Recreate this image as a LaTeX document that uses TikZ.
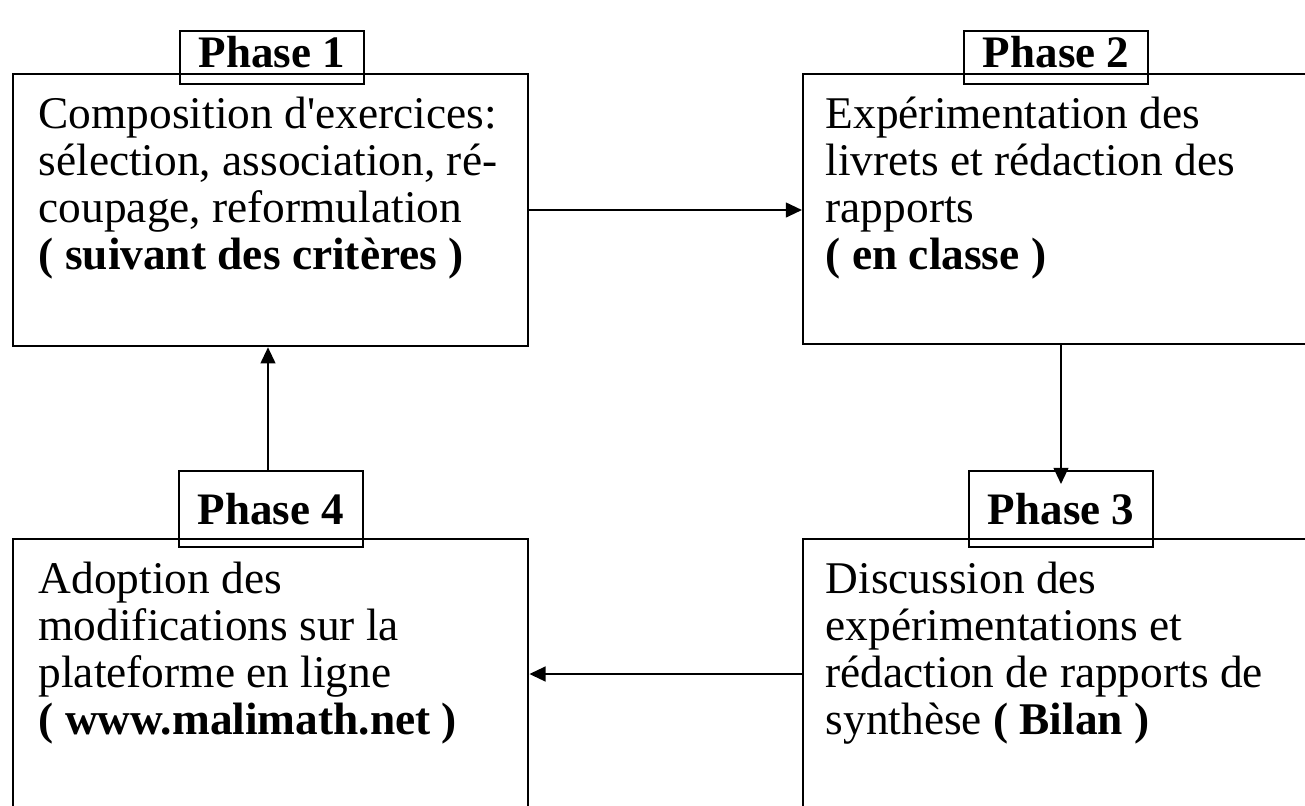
\documentclass[tikz,border=0pt]{standalone}
\usepackage{fontspec}
\setmainfont{Liberation Serif}
\usetikzlibrary{arrows.meta}

\tikzset{
  bigbox/.style={rectangle, draw, line width=0.6pt, anchor=north west, inner sep=0pt},
  phasebox/.style={rectangle, draw, line width=0.6pt, anchor=north west, inner sep=0pt,
    minimum width=1.84cm, font=\fontsize{12.8}{13.4}\selectfont\bfseries},
  boxtext/.style={anchor=north west, align=left, inner sep=0pt, font=\fontsize{12.9}{13.4}\selectfont},
  flow/.style={line width=0.6pt, -{Triangle[length=4.6pt, width=4.2pt]}}
}

\begin{document}
\begin{tikzpicture}[x=0.01cm, y=-0.01cm]
  \useasboundingbox (0,0) rectangle (1305,805);
  \clip (0,0) rectangle (1305,805);
  % Boxes
  \node (box1) [bigbox, minimum width=5.15cm, minimum height=2.72cm] at (12, 73) {};
  \node (box2) [bigbox, minimum width=6cm, minimum height=2.70cm] at (802, 73) {};
  \node (box3) [bigbox, minimum width=6cm, minimum height=4cm] at (802, 538) {};
  \node (box4) [bigbox, minimum width=5.15cm, minimum height=4cm] at (12, 538) {};
  % Headers
  \node (ph1) [phasebox, text height=0.36cm, text depth=0.17cm] at (179, 30) {Phase 1};
  \node (ph2) [phasebox, text height=0.36cm, text depth=0.17cm] at (963, 30) {Phase 2};
  \node (ph3) [phasebox, minimum height=0.76cm] at (968, 470) {Phase 3};
  \node (ph4) [phasebox, minimum height=0.76cm] at (178, 470) {Phase 4};
  % Texts
  \node (txt1) [boxtext] at (38, 96) {Composition d\textquotesingle exercices:\\
    sélection, association, ré-\\coupage, reformulation\\\textbf{( suivant des critères )}};
  \node (txt2) [boxtext] at (825, 96) {Expérimentation des\\livrets et rédaction des\\
    rapports\\\textbf{( en classe )}};
  \node (txt3) [boxtext] at (825, 561) {Discussion des\\expérimentations et\\
    rédaction de rapports de\\synthèse \textbf{( Bilan )}};
  \node (txt4) [boxtext] at (38, 561) {Adoption des\\modifications sur la\\
    plateforme en ligne\\\textbf{( www.malimath.net )}};
  % Arrows
  \coordinate (a1) at (box1.east |- 0,210);
  \coordinate (a2) at (box2.west |- 0,210);
  \draw[flow] (a1) -- (a2);
  \coordinate (d1) at (1061, 343);
  \coordinate (d2) at (1061, 484);
  \draw[flow] (box2.south -| d1) -- (d2);
  \coordinate (b1) at (box3.west |- 0,674);
  \coordinate (b2) at (box4.east |- 0,674);
  \draw[flow] (b1) -- (b2);
  \draw[flow] (ph4.north -| 268,0) -- (box1.south -| 268,0);
\end{tikzpicture}
\end{document}
